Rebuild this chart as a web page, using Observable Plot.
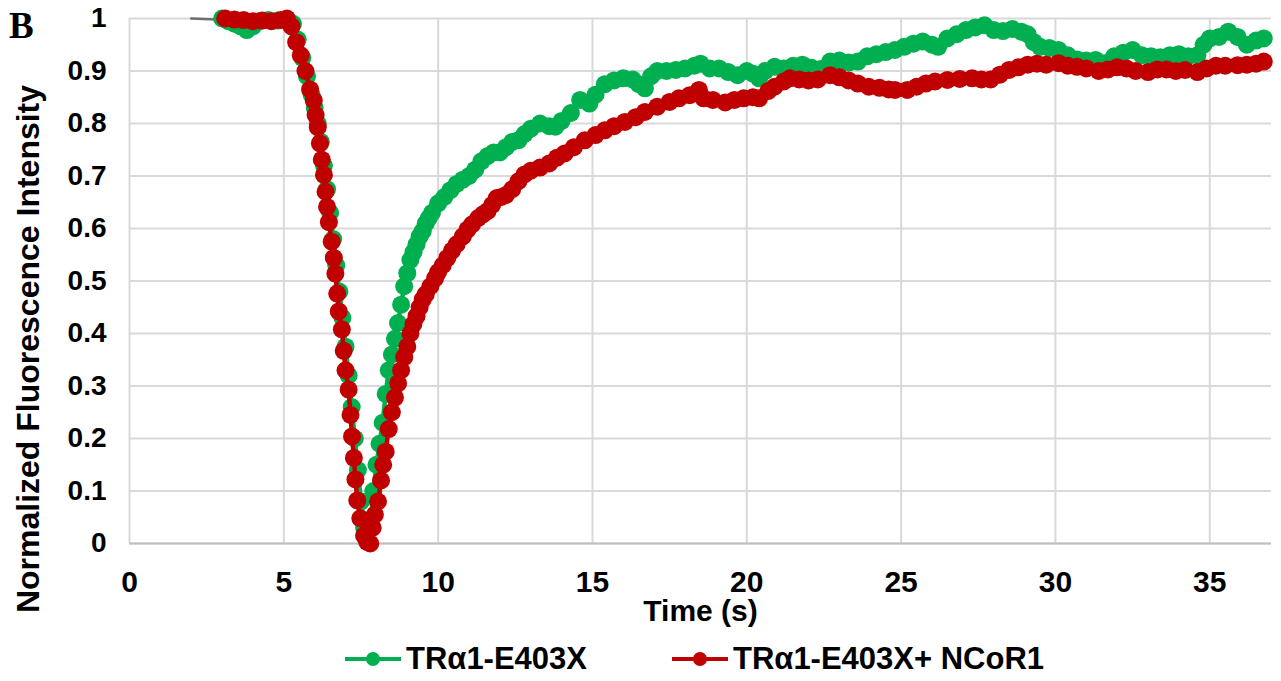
<!DOCTYPE html>
<html>
<head>
<meta charset="utf-8">
<script src="https://cdn.jsdelivr.net/npm/d3@7"></script>
<script src="https://cdn.jsdelivr.net/npm/@observablehq/plot@0.6"></script>
<style>
  html, body { margin: 0; padding: 0; background: #fff; }
  #wrap { position: relative; width: 1281px; height: 681px; font-family: "Liberation Sans", Arial, sans-serif; }
  .legend { position: absolute; top: 0; left: 0; width: 1281px; height: 51px; }
  .item { position: absolute; top: 0; height: 51px; display: flex; align-items: center; font-weight: bold; font-size: 31px; color: #000; }
  .item svg { margin-right: 5px; }
  #letter { position: absolute; left: 9px; top: 5px; font-family: "Liberation Serif", "Times New Roman", serif; font-weight: bold; font-size: 37px; line-height: 42px; color: #000; }
</style>
</head>
<body>
<div id="wrap"></div>
<script>
// ---- data ----
const seriesNames = ["TRα1-E403X", "TRα1-E403X+ NCoR1"];
const seriesColors = ["#00b050", "#c00000"];

const grayT = [2.0, 2.4, 2.8];
const grayV = [1.0, 0.999, 0.998];

const greenT = [3.0,3.2,3.4,3.6,3.8,4.0,4.2,4.5,4.8,5.1,5.3,5.45,5.6,5.75,5.9,6.0,6.1,6.2,6.3,6.4,6.5,6.6,6.7,6.8,6.9,7.0,7.1,7.2,7.3,7.4,7.5,7.6,7.7,7.8,7.9,8.0,8.1,8.2,8.3,8.4,8.5,8.6,8.7,8.8,8.9,9.0,9.1,9.2,9.3,9.4,9.5,9.6,9.7,9.8,10.0,10.2,10.4,10.6,10.8,11.0,11.2,11.4,11.6,11.8,12.0,12.2,12.4,12.6,12.8,13.0,13.3,13.6,13.8,14.0,14.3,14.6,14.9,15.1,15.4,15.7,16.0,16.3,16.5,16.7,16.9,17.1,17.4,17.7,18.0,18.3,18.5,18.8,19.1,19.4,19.7,20.0,20.2,20.4,20.6,20.9,21.2,21.5,21.8,22.1,22.4,22.7,23.0,23.3,23.6,23.9,24.2,24.5,24.8,25.1,25.4,25.7,26.0,26.2,26.5,26.8,27.1,27.4,27.7,28.0,28.3,28.6,28.9,29.1,29.3,29.5,29.8,30.1,30.4,30.7,31.0,31.3,31.6,31.9,32.2,32.5,32.8,33.1,33.4,33.7,34.0,34.3,34.6,34.8,35.0,35.3,35.6,35.9,36.2,36.5,36.75];
const greenV = [1.0,0.995,0.99,0.985,0.978,0.985,0.995,0.997,0.996,0.998,0.99,0.96,0.925,0.89,0.855,0.83,0.8,0.765,0.72,0.675,0.63,0.58,0.53,0.48,0.43,0.375,0.32,0.26,0.2,0.14,0.08,0.03,0.005,0.03,0.1,0.15,0.19,0.23,0.285,0.33,0.36,0.39,0.42,0.455,0.49,0.515,0.54,0.555,0.57,0.585,0.595,0.61,0.62,0.63,0.648,0.66,0.673,0.685,0.693,0.7,0.712,0.728,0.738,0.745,0.745,0.755,0.765,0.768,0.78,0.79,0.8,0.795,0.794,0.805,0.82,0.845,0.838,0.855,0.875,0.882,0.886,0.884,0.875,0.867,0.89,0.9,0.9,0.902,0.905,0.91,0.914,0.905,0.905,0.898,0.892,0.9,0.895,0.886,0.9,0.908,0.905,0.91,0.912,0.906,0.904,0.918,0.92,0.916,0.918,0.928,0.932,0.936,0.94,0.946,0.952,0.956,0.95,0.946,0.962,0.97,0.978,0.983,0.987,0.978,0.976,0.98,0.975,0.97,0.955,0.946,0.944,0.94,0.93,0.922,0.92,0.921,0.915,0.928,0.935,0.94,0.93,0.928,0.926,0.93,0.932,0.928,0.93,0.95,0.962,0.965,0.975,0.965,0.95,0.958,0.962];

const redT = [3.1,3.4,3.7,4.0,4.3,4.6,4.9,5.1,5.25,5.4,5.55,5.7,5.85,5.97,6.03,6.1,6.17,6.23,6.3,6.35,6.4,6.46,6.55,6.62,6.67,6.73,6.78,6.88,6.94,7.0,7.1,7.16,7.21,7.27,7.32,7.38,7.48,7.6,7.7,7.8,7.88,7.95,8.05,8.15,8.22,8.3,8.4,8.5,8.6,8.7,8.8,8.9,9.0,9.1,9.2,9.3,9.4,9.5,9.6,9.75,9.9,10.0,10.15,10.3,10.45,10.6,10.8,10.95,11.1,11.3,11.45,11.6,11.75,11.9,12.05,12.2,12.4,12.6,12.8,13.0,13.3,13.6,13.85,14.1,14.4,14.75,15.1,15.4,15.7,16.05,16.4,16.7,17.1,17.5,17.8,18.15,18.45,18.6,18.9,19.3,19.6,19.9,20.2,20.4,20.7,20.9,21.2,21.4,21.7,22.0,22.3,22.7,23.0,23.3,23.6,23.95,24.3,24.6,24.8,25.2,25.5,25.8,26.1,26.5,26.9,27.3,27.6,27.9,28.2,28.5,28.8,29.1,29.4,29.7,30.1,30.4,30.7,31.0,31.4,31.7,32.0,32.3,32.6,33.0,33.3,33.6,33.9,34.2,34.6,34.9,35.2,35.5,35.9,36.2,36.5,36.75];
const redV = [1.0,0.998,0.997,0.995,0.996,0.995,0.997,1.0,0.985,0.955,0.93,0.9,0.865,0.844,0.816,0.793,0.762,0.731,0.702,0.67,0.641,0.612,0.575,0.544,0.514,0.476,0.442,0.408,0.367,0.33,0.293,0.245,0.204,0.163,0.122,0.082,0.048,0.015,0.003,0.0,0.03,0.055,0.08,0.12,0.15,0.175,0.218,0.25,0.278,0.305,0.33,0.355,0.375,0.4,0.418,0.433,0.45,0.465,0.475,0.49,0.505,0.517,0.53,0.544,0.558,0.57,0.585,0.598,0.608,0.62,0.627,0.633,0.645,0.658,0.66,0.664,0.675,0.69,0.703,0.71,0.716,0.724,0.735,0.743,0.755,0.768,0.778,0.787,0.795,0.803,0.812,0.822,0.832,0.841,0.848,0.854,0.864,0.848,0.845,0.84,0.845,0.848,0.85,0.848,0.862,0.87,0.88,0.886,0.884,0.882,0.884,0.892,0.888,0.882,0.876,0.87,0.868,0.865,0.864,0.864,0.87,0.876,0.88,0.883,0.885,0.886,0.884,0.884,0.893,0.902,0.907,0.912,0.914,0.912,0.915,0.91,0.908,0.905,0.9,0.903,0.907,0.905,0.9,0.898,0.903,0.903,0.9,0.902,0.898,0.905,0.91,0.91,0.911,0.912,0.914,0.918];

const xTicks = [0, 5, 10, 15, 20, 25, 30, 35];
const yTicks = [0, 0.1, 0.2, 0.3, 0.4, 0.5, 0.6, 0.7, 0.8, 0.9, 1];
const xTitle = "Time (s)";
const yTitle = "Normalized Fluorescence Intensity";
const panelLetter = "B";

// ---- build tables ----
const gray = grayT.map((t, i) => ({t, v: grayV[i]}));
const green = greenT.map((t, i) => ({t, v: greenV[i]}));
const red = redT.map((t, i) => ({t, v: redV[i]}));

const chart = Plot.plot({
  width: 1281,
  height: 630,
  marginLeft: 129,
  marginRight: 10,
  marginTop: 18,
  marginBottom: 87,
  x: {domain: [0, 37]},
  y: {domain: [0, 1]},
  style: {fontFamily: "'Liberation Sans', Arial, sans-serif", fontWeight: "bold", fontSize: "28px", color: "#000", background: "#fff", overflow: "visible"},
  marks: [
    Plot.gridX(xTicks, {stroke: "#d9d9d9", strokeOpacity: 1, strokeWidth: 2}),
    Plot.gridY(yTicks, {stroke: "#d9d9d9", strokeOpacity: 1, strokeWidth: 2}),
    Plot.ruleY([0], {stroke: "#bfbfbf", strokeWidth: 2}),
    Plot.axisX(xTicks, {tickSize: 0, tickPadding: 27, fontSize: 30, label: null, tickFormat: d3.format("~g")}),
    Plot.axisY(yTicks, {tickSize: 0, tickPadding: 23, fontSize: 28, label: null, tickFormat: d3.format("~g")}),
    Plot.line(gray, {x: "t", y: "v", stroke: "#6f6f6f", strokeWidth: 2.5}),
    Plot.line(green, {x: "t", y: "v", stroke: seriesColors[0], strokeWidth: 4.5}),
    Plot.dot(green, {x: "t", y: "v", r: 9, fill: seriesColors[0], stroke: "none"}),
    Plot.line(red, {x: "t", y: "v", stroke: seriesColors[1], strokeWidth: 4.5}),
    Plot.dot(red, {x: "t", y: "v", r: 9, fill: seriesColors[1], stroke: "none"}),
    Plot.text([xTitle], {frameAnchor: "bottom", dy: 68, lineAnchor: "middle", textAnchor: "middle", fontSize: 30, fontWeight: "bold", fill: "#000"}),
    Plot.text([yTitle], {frameAnchor: "left", rotate: -90, dx: -101, dy: 68, textAnchor: "middle", lineAnchor: "middle", fontSize: 32, fontWeight: "bold", fill: "#000"})
  ]
});

const wrap = document.getElementById("wrap");
wrap.appendChild(chart);

// panel letter
const letter = document.createElement("div");
letter.id = "letter";
letter.textContent = panelLetter;
wrap.appendChild(letter);

// legend below the SVG
const legend = document.createElement("div");
legend.className = "legend";
legend.style.top = "633px";
const lefts = [345, 672];
seriesNames.forEach((name, i) => {
  const item = document.createElement("div");
  item.className = "item";
  item.style.left = lefts[i] + "px";
  item.innerHTML = `<svg width="56" height="20"><line x1="0" y1="10" x2="56" y2="10" stroke="${seriesColors[i]}" stroke-width="4"/><circle cx="28" cy="10" r="7" fill="${seriesColors[i]}"/></svg><span>${name}</span>`;
  legend.appendChild(item);
});
wrap.appendChild(legend);
</script>
</body>
</html>
